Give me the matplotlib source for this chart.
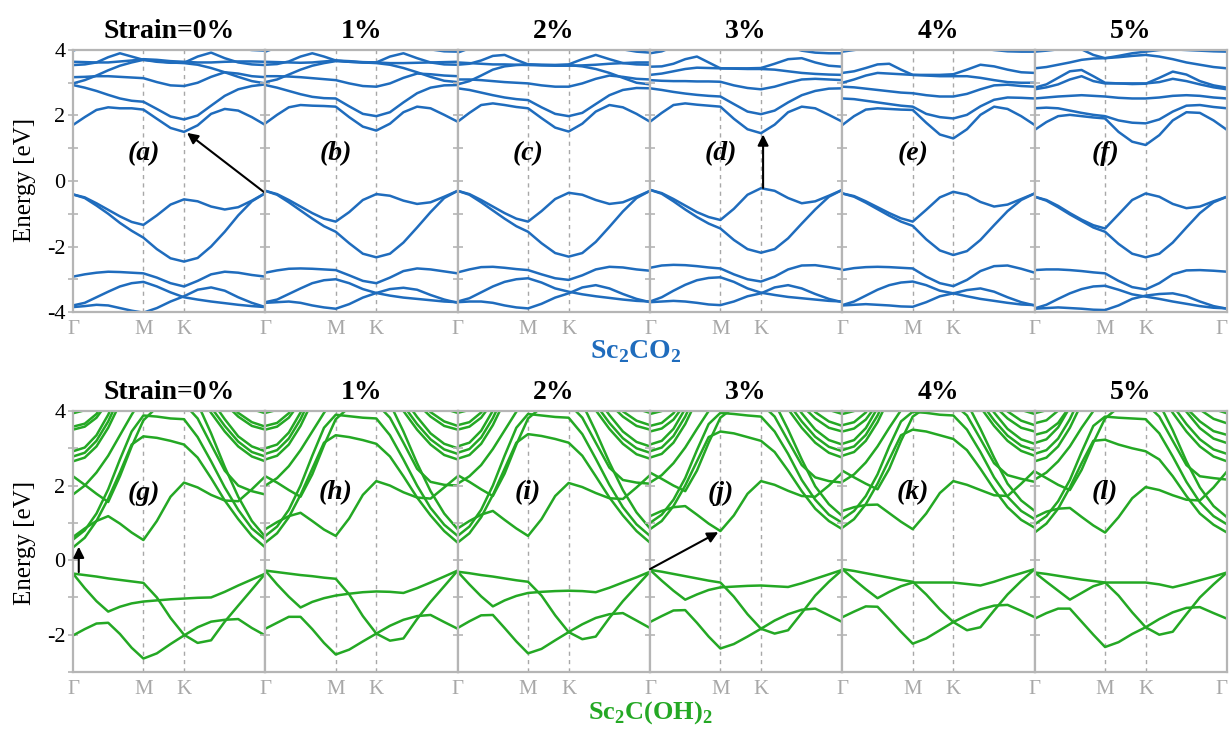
import matplotlib.pyplot as plt

plt.rcParams['font.family'] = ['Liberation Serif', 'DejaVu Serif']
plt.rcParams['axes.unicode_minus'] = False
plt.rcParams['mathtext.fontset'] = 'custom'
plt.rcParams['mathtext.rm'] = 'Liberation Serif'
plt.rcParams['mathtext.bf'] = 'Liberation Serif:bold'

# k-path samples along Γ-M-K-Γ (fraction of the path length)
kpath = [0, .061, .122, .183, .244, .305, .366, .436, .507, .577, .648, .718, .789, .859, .930, 1.0]
kpoints = [0.0, 0.366, 0.577, 1.0]
klabels = ['Γ', 'M', 'K', 'Γ']
strain_titles = ['Strain=0%', '1%', '2%', '3%', '4%', '5%']
co2_tags = ['a', 'b', 'c', 'd', 'e', 'f']
oh_tags = ['g', 'h', 'i', 'j', 'k', 'l']

# ---- Sc2CO2 bands (eV) ----
co2_0 = [
    [-0.41, -0.50, -0.68, -0.88, -1.08, -1.25, -1.34, -1.05, -0.72, -0.56, -0.62, -0.78, -0.87, -0.80, -0.60, -0.37],
    [-0.41, -0.52, -0.75, -1.00, -1.28, -1.52, -1.73, -2.08, -2.36, -2.46, -2.35, -2.00, -1.55, -1.05, -0.62, -0.37],
    [-2.92, -2.85, -2.80, -2.77, -2.78, -2.80, -2.82, -2.95, -3.12, -3.22, -3.05, -2.85, -2.77, -2.80, -2.87, -2.92],
    [-3.80, -3.72, -3.55, -3.38, -3.22, -3.12, -3.08, -3.22, -3.40, -3.55, -3.62, -3.68, -3.73, -3.78, -3.82, -3.85],
    [-3.85, -3.82, -3.78, -3.80, -3.88, -3.96, -4.02, -3.88, -3.68, -3.52, -3.32, -3.25, -3.35, -3.55, -3.72, -3.85],
    [1.71, 1.95, 2.17, 2.25, 2.22, 2.22, 2.18, 1.90, 1.62, 1.50, 1.70, 2.05, 2.20, 2.15, 1.95, 1.71],
    [2.93, 2.85, 2.75, 2.63, 2.52, 2.45, 2.42, 2.20, 1.97, 1.88, 2.00, 2.30, 2.60, 2.80, 2.90, 2.95],
    [2.98, 3.08, 3.22, 3.38, 3.52, 3.62, 3.70, 3.66, 3.62, 3.60, 3.55, 3.45, 3.32, 3.18, 3.05, 2.98],
    [3.17, 3.18, 3.20, 3.20, 3.18, 3.16, 3.14, 3.02, 2.92, 2.90, 3.00, 3.18, 3.32, 3.28, 3.20, 3.17],
    [3.54, 3.56, 3.62, 3.78, 3.90, 3.80, 3.70, 3.64, 3.61, 3.61, 3.80, 3.92, 3.75, 3.62, 3.56, 3.54],
    [3.64, 3.63, 3.62, 3.62, 3.65, 3.68, 3.72, 3.70, 3.66, 3.64, 3.62, 3.62, 3.64, 3.65, 3.65, 3.64],
    [3.98, 4.10, 4.30, 4.40, 4.30, 4.15, 4.05, 4.10, 4.20, 4.25, 4.20, 4.15, 4.10, 4.05, 4.00, 3.98],
]
co2_1 = [
    [-0.30, -0.40, -0.58, -0.78, -0.98, -1.15, -1.24, -0.95, -0.58, -0.40, -0.45, -0.60, -0.70, -0.65, -0.48, -0.30],
    [-0.30, -0.42, -0.65, -0.90, -1.15, -1.38, -1.55, -1.90, -2.22, -2.33, -2.22, -1.88, -1.42, -0.95, -0.52, -0.30],
    [-2.80, -2.73, -2.68, -2.67, -2.68, -2.70, -2.72, -2.88, -3.05, -3.12, -2.95, -2.75, -2.67, -2.70, -2.76, -2.82],
    [-3.70, -3.62, -3.45, -3.28, -3.12, -3.03, -3.00, -3.12, -3.30, -3.42, -3.50, -3.56, -3.60, -3.64, -3.68, -3.70],
    [-3.72, -3.70, -3.68, -3.72, -3.80, -3.86, -3.90, -3.76, -3.56, -3.42, -3.30, -3.26, -3.32, -3.48, -3.62, -3.72],
    [1.76, 2.02, 2.25, 2.32, 2.30, 2.29, 2.27, 1.95, 1.66, 1.54, 1.75, 2.10, 2.27, 2.22, 2.02, 1.81],
    [2.93, 2.85, 2.75, 2.65, 2.57, 2.53, 2.52, 2.28, 2.05, 1.98, 2.10, 2.40, 2.68, 2.85, 2.92, 2.93],
    [3.02, 3.10, 3.25, 3.40, 3.52, 3.60, 3.66, 3.64, 3.62, 3.60, 3.55, 3.45, 3.32, 3.18, 3.06, 3.02],
    [3.20, 3.20, 3.19, 3.17, 3.14, 3.11, 3.08, 2.98, 2.90, 2.88, 2.98, 3.15, 3.28, 3.26, 3.22, 3.20],
    [3.55, 3.57, 3.65, 3.80, 3.90, 3.80, 3.68, 3.64, 3.62, 3.62, 3.80, 3.90, 3.75, 3.62, 3.56, 3.55],
    [3.64, 3.63, 3.62, 3.61, 3.62, 3.65, 3.68, 3.66, 3.63, 3.62, 3.60, 3.60, 3.61, 3.62, 3.63, 3.64],
    [3.95, 4.08, 4.30, 4.40, 4.30, 4.15, 4.05, 4.10, 4.20, 4.25, 4.20, 4.15, 4.10, 4.02, 3.96, 3.95],
]
co2_2 = [
    [-0.30, -0.40, -0.58, -0.78, -0.98, -1.15, -1.24, -0.92, -0.55, -0.36, -0.42, -0.58, -0.70, -0.65, -0.48, -0.30],
    [-0.30, -0.42, -0.65, -0.90, -1.15, -1.38, -1.55, -1.90, -2.20, -2.31, -2.20, -1.86, -1.40, -0.93, -0.52, -0.30],
    [-2.79, -2.70, -2.63, -2.62, -2.65, -2.69, -2.72, -2.85, -2.97, -3.02, -2.88, -2.70, -2.62, -2.64, -2.70, -2.74],
    [-3.68, -3.58, -3.40, -3.22, -3.08, -3.00, -2.97, -3.10, -3.28, -3.38, -3.46, -3.52, -3.57, -3.62, -3.66, -3.68],
    [-3.70, -3.68, -3.68, -3.72, -3.80, -3.86, -3.89, -3.75, -3.56, -3.43, -3.25, -3.18, -3.28, -3.45, -3.60, -3.70],
    [1.81, 2.08, 2.32, 2.37, 2.32, 2.26, 2.22, 1.92, 1.63, 1.51, 1.75, 2.12, 2.32, 2.25, 2.05, 1.81],
    [2.83, 2.78, 2.70, 2.62, 2.55, 2.50, 2.47, 2.25, 2.05, 1.98, 2.08, 2.35, 2.62, 2.78, 2.84, 2.83],
    [2.95, 3.05, 3.22, 3.40, 3.50, 3.54, 3.56, 3.55, 3.54, 3.54, 3.50, 3.42, 3.30, 3.15, 3.00, 2.95],
    [3.10, 3.10, 3.08, 3.05, 3.02, 3.00, 2.98, 2.92, 2.88, 2.88, 2.98, 3.12, 3.22, 3.18, 3.12, 3.10],
    [3.55, 3.58, 3.68, 3.82, 3.85, 3.70, 3.56, 3.54, 3.54, 3.56, 3.72, 3.85, 3.72, 3.60, 3.56, 3.55],
    [3.62, 3.60, 3.58, 3.56, 3.56, 3.55, 3.54, 3.53, 3.52, 3.52, 3.53, 3.55, 3.58, 3.60, 3.62, 3.62],
    [3.92, 4.05, 4.25, 4.40, 4.30, 4.15, 4.05, 4.10, 4.20, 4.25, 4.20, 4.15, 4.10, 4.02, 3.95, 3.92],
]
co2_3 = [
    [-0.27, -0.37, -0.55, -0.75, -0.95, -1.10, -1.19, -0.85, -0.42, -0.22, -0.30, -0.52, -0.68, -0.62, -0.45, -0.27],
    [-0.27, -0.39, -0.62, -0.87, -1.10, -1.30, -1.45, -1.80, -2.08, -2.19, -2.08, -1.75, -1.30, -0.87, -0.48, -0.27],
    [-2.65, -2.58, -2.56, -2.57, -2.60, -2.64, -2.67, -2.85, -3.00, -3.07, -2.92, -2.70, -2.58, -2.57, -2.63, -2.70],
    [-3.68, -3.55, -3.35, -3.17, -3.03, -2.96, -2.94, -3.08, -3.28, -3.41, -3.48, -3.54, -3.58, -3.62, -3.66, -3.68],
    [-3.70, -3.68, -3.66, -3.68, -3.72, -3.77, -3.79, -3.68, -3.52, -3.43, -3.25, -3.18, -3.28, -3.45, -3.60, -3.70],
    [1.81, 2.08, 2.32, 2.37, 2.33, 2.30, 2.27, 1.90, 1.58, 1.46, 1.72, 2.10, 2.27, 2.22, 2.02, 1.81],
    [2.83, 2.78, 2.72, 2.67, 2.63, 2.60, 2.58, 2.35, 2.12, 2.04, 2.15, 2.40, 2.62, 2.75, 2.82, 2.83],
    [3.08, 3.06, 3.05, 3.05, 3.04, 3.04, 3.03, 2.92, 2.84, 2.80, 2.88, 3.00, 3.10, 3.12, 3.10, 3.08],
    [3.24, 3.28, 3.35, 3.42, 3.46, 3.45, 3.44, 3.43, 3.42, 3.42, 3.40, 3.35, 3.30, 3.27, 3.25, 3.24],
    [3.49, 3.50, 3.58, 3.72, 3.80, 3.62, 3.44, 3.44, 3.44, 3.45, 3.58, 3.72, 3.75, 3.62, 3.52, 3.49],
    [3.90, 3.96, 4.10, 4.30, 4.30, 4.15, 4.05, 4.10, 4.20, 4.25, 4.20, 4.10, 3.98, 3.92, 3.90, 3.90],
]
co2_4 = [
    [-0.38, -0.46, -0.62, -0.80, -0.98, -1.14, -1.24, -0.88, -0.50, -0.33, -0.42, -0.64, -0.78, -0.72, -0.55, -0.38],
    [-0.38, -0.48, -0.66, -0.86, -1.06, -1.24, -1.37, -1.78, -2.12, -2.26, -2.14, -1.80, -1.35, -0.92, -0.58, -0.38],
    [-2.72, -2.66, -2.63, -2.62, -2.63, -2.65, -2.67, -2.92, -3.12, -3.21, -3.02, -2.75, -2.60, -2.58, -2.68, -2.80],
    [-3.79, -3.68, -3.50, -3.32, -3.18, -3.10, -3.07, -3.18, -3.35, -3.43, -3.52, -3.60, -3.66, -3.72, -3.77, -3.79],
    [-3.80, -3.78, -3.76, -3.78, -3.80, -3.83, -3.84, -3.70, -3.52, -3.43, -3.33, -3.28, -3.38, -3.55, -3.70, -3.80],
    [1.71, 1.98, 2.18, 2.22, 2.20, 2.18, 2.17, 1.78, 1.42, 1.30, 1.58, 2.02, 2.27, 2.20, 1.98, 1.71],
    [2.52, 2.50, 2.45, 2.40, 2.35, 2.30, 2.27, 2.05, 1.95, 1.91, 2.02, 2.28, 2.48, 2.55, 2.54, 2.52],
    [2.88, 2.86, 2.82, 2.78, 2.74, 2.70, 2.68, 2.62, 2.58, 2.58, 2.66, 2.80, 2.92, 2.94, 2.90, 2.88],
    [3.00, 3.10, 3.22, 3.30, 3.28, 3.26, 3.24, 3.22, 3.20, 3.20, 3.20, 3.15, 3.08, 3.02, 3.00, 3.00],
    [3.30, 3.35, 3.45, 3.56, 3.58, 3.40, 3.24, 3.24, 3.24, 3.26, 3.40, 3.55, 3.50, 3.40, 3.32, 3.30],
    [3.95, 4.00, 4.05, 4.10, 4.15, 4.10, 4.05, 4.05, 4.10, 4.15, 4.10, 4.05, 4.00, 3.96, 3.95, 3.95],
]
co2_5 = [
    [-0.48, -0.58, -0.76, -0.98, -1.18, -1.35, -1.45, -1.02, -0.58, -0.38, -0.48, -0.70, -0.83, -0.78, -0.62, -0.48],
    [-0.48, -0.60, -0.80, -1.02, -1.22, -1.42, -1.55, -1.92, -2.22, -2.33, -2.22, -1.88, -1.42, -0.98, -0.65, -0.48],
    [-2.72, -2.70, -2.70, -2.72, -2.75, -2.79, -2.82, -3.05, -3.24, -3.31, -3.12, -2.85, -2.73, -2.72, -2.74, -2.77],
    [-3.89, -3.78, -3.60, -3.43, -3.30, -3.22, -3.20, -3.32, -3.46, -3.53, -3.60, -3.68, -3.75, -3.82, -3.87, -3.89],
    [-3.90, -3.88, -3.86, -3.88, -3.90, -3.93, -3.94, -3.80, -3.60, -3.50, -3.45, -3.43, -3.52, -3.68, -3.82, -3.90],
    [1.56, 1.80, 1.98, 2.02, 1.98, 1.94, 1.91, 1.50, 1.20, 1.10, 1.40, 1.85, 2.10, 2.08, 1.85, 1.56],
    [2.22, 2.24, 2.22, 2.15, 2.08, 2.02, 1.98, 1.85, 1.78, 1.76, 1.88, 2.12, 2.30, 2.32, 2.26, 2.22],
    [2.52, 2.55, 2.58, 2.60, 2.62, 2.60, 2.58, 2.54, 2.52, 2.52, 2.55, 2.60, 2.62, 2.60, 2.55, 2.52],
    [2.80, 2.86, 2.95, 3.10, 3.20, 3.05, 2.98, 2.98, 2.98, 2.98, 3.02, 3.12, 3.05, 2.95, 2.86, 2.80],
    [2.85, 2.95, 3.15, 3.35, 3.39, 3.20, 3.00, 2.98, 2.96, 2.97, 3.15, 3.34, 3.25, 3.05, 2.92, 2.85],
    [3.44, 3.48, 3.55, 3.62, 3.70, 3.74, 3.75, 3.78, 3.82, 3.85, 3.80, 3.72, 3.62, 3.55, 3.48, 3.44],
    [3.95, 3.98, 4.02, 4.05, 4.02, 3.85, 3.75, 3.82, 3.90, 3.95, 4.00, 4.02, 4.00, 3.98, 3.96, 3.95],
]

# ---- Sc2C(OH)2 bands (eV) ----
oh_0 = [
    [-0.36, -0.40, -0.44, -0.49, -0.53, -0.57, -0.61, -1.00, -1.55, -2.00, -2.22, -2.15, -1.65, -1.22, -0.79, -0.36],
    [-0.36, -0.75, -1.10, -1.38, -1.25, -1.16, -1.11, -1.08, -1.05, -1.03, -1.01, -1.00, -0.85, -0.68, -0.52, -0.36],
    [-2.02, -1.85, -1.70, -1.68, -1.98, -2.35, -2.64, -2.50, -2.25, -2.02, -1.80, -1.65, -1.60, -1.58, -1.82, -2.02],
    [0.62, 0.85, 1.05, 1.18, 0.98, 0.74, 0.54, 1.05, 1.70, 2.08, 1.95, 1.75, 1.60, 1.58, 1.90, 2.25],
    [0.34, 0.60, 1.05, 1.65, 2.35, 3.10, 3.32, 3.28, 3.20, 3.10, 2.75, 2.20, 1.60, 1.10, 0.65, 0.34],
    [0.55, 0.80, 1.25, 1.90, 2.70, 3.45, 3.88, 3.85, 3.80, 3.78, 3.30, 2.65, 1.95, 1.35, 0.85, 0.55],
    [1.76, 2.00, 2.35, 2.80, 3.35, 3.90, 4.40, 4.60, 4.60, 4.50, 4.20, 3.40, 2.50, 1.70, 1.05, 0.62],
    [2.25, 2.02, 1.78, 1.56, 2.25, 3.05, 3.75, 4.10, 4.30, 4.20, 3.80, 3.10, 2.40, 2.00, 1.85, 1.76],
    [2.65, 2.75, 3.05, 3.55, 4.20, 5.0, 5.0, 5.0, 5.0, 5.0, 4.50, 3.95, 3.45, 3.05, 2.78, 2.65],
    [2.78, 2.88, 3.20, 3.72, 4.40, 5.0, 5.0, 5.0, 5.0, 5.0, 4.70, 4.10, 3.60, 3.18, 2.90, 2.78],
    [2.92, 3.02, 3.35, 3.90, 4.60, 5.0, 5.0, 5.0, 5.0, 5.0, 4.90, 4.30, 3.78, 3.32, 3.05, 2.92],
    [3.50, 3.58, 3.82, 4.25, 5.0, 5.0, 5.0, 5.0, 5.0, 5.0, 5.0, 4.70, 4.20, 3.85, 3.60, 3.50],
    [3.58, 3.66, 3.92, 4.40, 5.0, 5.0, 5.0, 5.0, 5.0, 5.0, 5.0, 4.90, 4.35, 3.95, 3.70, 3.58],
    [3.94, 4.02, 4.25, 4.70, 5.0, 5.0, 5.0, 5.0, 5.0, 5.0, 5.0, 5.0, 4.70, 4.30, 4.05, 3.94],
]
oh_1 = [
    [-0.28, -0.32, -0.36, -0.40, -0.43, -0.47, -0.50, -0.92, -1.50, -1.97, -2.16, -2.10, -1.58, -1.12, -0.70, -0.28],
    [-0.28, -0.65, -0.98, -1.27, -1.12, -1.02, -0.95, -0.90, -0.86, -0.84, -0.85, -0.88, -0.75, -0.60, -0.44, -0.28],
    [-1.84, -1.68, -1.52, -1.52, -1.85, -2.22, -2.53, -2.40, -2.18, -1.97, -1.76, -1.60, -1.50, -1.47, -1.66, -1.84],
    [0.83, 1.02, 1.18, 1.27, 1.05, 0.82, 0.65, 1.12, 1.75, 2.12, 2.00, 1.82, 1.68, 1.65, 1.95, 2.25],
    [0.47, 0.72, 1.15, 1.75, 2.45, 3.15, 3.35, 3.30, 3.22, 3.12, 2.78, 2.25, 1.68, 1.20, 0.78, 0.47],
    [0.65, 0.90, 1.35, 2.00, 2.80, 3.55, 3.90, 3.86, 3.82, 3.80, 3.35, 2.70, 2.00, 1.40, 0.95, 0.65],
    [2.00, 2.20, 2.52, 2.95, 3.45, 3.95, 4.40, 4.60, 4.60, 4.50, 4.20, 3.45, 2.60, 1.85, 1.25, 0.83],
    [2.25, 2.08, 1.88, 1.70, 2.30, 3.08, 3.78, 4.10, 4.30, 4.20, 3.82, 3.15, 2.45, 2.10, 2.02, 2.00],
    [2.70, 2.80, 3.10, 3.60, 4.25, 5.0, 5.0, 5.0, 5.0, 5.0, 4.55, 4.00, 3.50, 3.10, 2.82, 2.70],
    [2.85, 2.95, 3.26, 3.78, 4.45, 5.0, 5.0, 5.0, 5.0, 5.0, 4.75, 4.15, 3.65, 3.24, 2.97, 2.85],
    [3.00, 3.10, 3.42, 3.96, 4.65, 5.0, 5.0, 5.0, 5.0, 5.0, 4.95, 4.35, 3.84, 3.40, 3.12, 3.00],
    [3.50, 3.58, 3.82, 4.25, 5.0, 5.0, 5.0, 5.0, 5.0, 5.0, 5.0, 4.70, 4.20, 3.85, 3.60, 3.50],
    [3.60, 3.68, 3.94, 4.42, 5.0, 5.0, 5.0, 5.0, 5.0, 5.0, 5.0, 4.90, 4.37, 3.97, 3.72, 3.60],
    [3.95, 4.03, 4.26, 4.70, 5.0, 5.0, 5.0, 5.0, 5.0, 5.0, 5.0, 5.0, 4.70, 4.30, 4.06, 3.95],
]
oh_2 = [
    [-0.31, -0.35, -0.40, -0.44, -0.49, -0.54, -0.58, -0.95, -1.48, -1.93, -2.12, -2.05, -1.55, -1.10, -0.70, -0.31],
    [-0.31, -0.65, -0.97, -1.24, -1.08, -0.96, -0.88, -0.85, -0.83, -0.82, -0.83, -0.86, -0.74, -0.60, -0.46, -0.31],
    [-1.82, -1.64, -1.48, -1.47, -1.82, -2.18, -2.50, -2.38, -2.15, -1.93, -1.72, -1.55, -1.45, -1.42, -1.62, -1.82],
    [0.85, 1.05, 1.22, 1.32, 1.08, 0.85, 0.65, 1.10, 1.72, 2.07, 1.96, 1.80, 1.66, 1.64, 1.95, 2.28],
    [0.47, 0.72, 1.15, 1.75, 2.45, 3.15, 3.38, 3.33, 3.25, 3.15, 2.80, 2.25, 1.68, 1.20, 0.78, 0.47],
    [0.65, 0.90, 1.35, 2.00, 2.80, 3.55, 3.92, 3.88, 3.84, 3.82, 3.38, 2.72, 2.02, 1.42, 0.96, 0.65],
    [2.05, 2.25, 2.55, 2.98, 3.48, 3.98, 4.40, 4.60, 4.60, 4.50, 4.20, 3.45, 2.62, 1.88, 1.28, 0.85],
    [2.28, 2.10, 1.90, 1.72, 2.32, 3.10, 3.80, 4.10, 4.30, 4.20, 3.82, 3.15, 2.48, 2.15, 2.08, 2.05],
    [2.72, 2.82, 3.12, 3.62, 4.27, 5.0, 5.0, 5.0, 5.0, 5.0, 4.57, 4.02, 3.52, 3.12, 2.84, 2.72],
    [2.88, 2.98, 3.29, 3.81, 4.48, 5.0, 5.0, 5.0, 5.0, 5.0, 4.78, 4.18, 3.68, 3.27, 3.00, 2.88],
    [3.05, 3.15, 3.47, 4.01, 4.70, 5.0, 5.0, 5.0, 5.0, 5.0, 5.0, 4.40, 3.89, 3.45, 3.17, 3.05],
    [3.50, 3.58, 3.82, 4.25, 5.0, 5.0, 5.0, 5.0, 5.0, 5.0, 5.0, 4.70, 4.20, 3.85, 3.60, 3.50],
    [3.62, 3.70, 3.96, 4.44, 5.0, 5.0, 5.0, 5.0, 5.0, 5.0, 5.0, 4.92, 4.39, 3.99, 3.74, 3.62],
    [3.95, 4.03, 4.26, 4.70, 5.0, 5.0, 5.0, 5.0, 5.0, 5.0, 5.0, 5.0, 4.70, 4.30, 4.06, 3.95],
]
oh_3 = [
    [-0.26, -0.31, -0.37, -0.43, -0.49, -0.55, -0.60, -0.98, -1.45, -1.84, -1.97, -1.88, -1.42, -0.95, -0.58, -0.26],
    [-0.26, -0.55, -0.82, -1.06, -0.92, -0.80, -0.73, -0.71, -0.69, -0.68, -0.70, -0.72, -0.62, -0.50, -0.38, -0.26],
    [-1.66, -1.50, -1.35, -1.34, -1.68, -2.05, -2.37, -2.25, -2.05, -1.84, -1.62, -1.45, -1.33, -1.30, -1.48, -1.66],
    [1.18, 1.32, 1.42, 1.45, 1.22, 0.98, 0.78, 1.20, 1.78, 2.12, 2.02, 1.86, 1.72, 1.70, 2.00, 2.35],
    [0.83, 1.05, 1.45, 2.00, 2.65, 3.30, 3.45, 3.40, 3.30, 3.20, 2.90, 2.40, 1.85, 1.38, 1.05, 0.83],
    [1.00, 1.22, 1.62, 2.20, 2.95, 3.65, 3.95, 3.92, 3.88, 3.85, 3.45, 2.85, 2.15, 1.62, 1.22, 1.00],
    [2.08, 2.28, 2.60, 3.02, 3.52, 4.00, 4.40, 4.60, 4.60, 4.50, 4.22, 3.50, 2.70, 1.98, 1.50, 1.18],
    [2.35, 2.18, 2.00, 1.85, 2.40, 3.15, 3.82, 4.10, 4.30, 4.20, 3.85, 3.20, 2.55, 2.22, 2.12, 2.08],
    [2.75, 2.85, 3.15, 3.65, 4.30, 5.0, 5.0, 5.0, 5.0, 5.0, 4.60, 4.05, 3.55, 3.15, 2.88, 2.75],
    [2.92, 3.02, 3.33, 3.85, 4.52, 5.0, 5.0, 5.0, 5.0, 5.0, 4.82, 4.22, 3.72, 3.31, 3.04, 2.92],
    [3.10, 3.20, 3.52, 4.06, 4.75, 5.0, 5.0, 5.0, 5.0, 5.0, 5.0, 4.45, 3.94, 3.50, 3.22, 3.10],
    [3.45, 3.53, 3.77, 4.20, 5.0, 5.0, 5.0, 5.0, 5.0, 5.0, 5.0, 4.65, 4.15, 3.80, 3.55, 3.45],
    [3.60, 3.68, 3.94, 4.42, 5.0, 5.0, 5.0, 5.0, 5.0, 5.0, 5.0, 4.90, 4.37, 3.97, 3.72, 3.60],
    [3.92, 4.00, 4.23, 4.68, 5.0, 5.0, 5.0, 5.0, 5.0, 5.0, 5.0, 5.0, 4.68, 4.28, 4.03, 3.92],
]
oh_4 = [
    [-0.24, -0.29, -0.35, -0.41, -0.47, -0.53, -0.58, -0.92, -1.32, -1.66, -1.88, -1.80, -1.35, -0.92, -0.56, -0.24],
    [-0.24, -0.52, -0.78, -1.02, -0.85, -0.70, -0.60, -0.60, -0.60, -0.60, -0.64, -0.68, -0.58, -0.46, -0.35, -0.24],
    [-1.53, -1.38, -1.24, -1.25, -1.58, -1.92, -2.24, -2.10, -1.88, -1.66, -1.48, -1.32, -1.22, -1.20, -1.36, -1.53],
    [1.32, 1.42, 1.48, 1.49, 1.26, 1.03, 0.83, 1.25, 1.80, 2.12, 2.02, 1.88, 1.74, 1.72, 2.05, 2.40],
    [0.87, 1.10, 1.50, 2.05, 2.70, 3.35, 3.50, 3.45, 3.35, 3.25, 2.95, 2.45, 1.90, 1.42, 1.08, 0.87],
    [1.10, 1.32, 1.72, 2.30, 3.05, 3.72, 3.98, 3.95, 3.90, 3.88, 3.50, 2.90, 2.22, 1.70, 1.32, 1.10],
    [2.10, 2.30, 2.62, 3.05, 3.55, 4.02, 4.40, 4.60, 4.60, 4.50, 4.22, 3.52, 2.75, 2.05, 1.60, 1.32],
    [2.40, 2.22, 2.05, 1.90, 2.45, 3.20, 3.85, 4.10, 4.30, 4.20, 3.88, 3.25, 2.60, 2.28, 2.18, 2.10],
    [2.80, 2.90, 3.20, 3.70, 4.35, 5.0, 5.0, 5.0, 5.0, 5.0, 4.65, 4.10, 3.60, 3.20, 2.93, 2.80],
    [2.95, 3.05, 3.36, 3.88, 4.55, 5.0, 5.0, 5.0, 5.0, 5.0, 4.85, 4.25, 3.75, 3.34, 3.07, 2.95],
    [3.12, 3.22, 3.54, 4.08, 4.77, 5.0, 5.0, 5.0, 5.0, 5.0, 5.0, 4.47, 3.96, 3.52, 3.24, 3.12],
    [3.45, 3.53, 3.77, 4.20, 5.0, 5.0, 5.0, 5.0, 5.0, 5.0, 5.0, 4.65, 4.15, 3.80, 3.55, 3.45],
    [3.62, 3.70, 3.96, 4.44, 5.0, 5.0, 5.0, 5.0, 5.0, 5.0, 5.0, 4.92, 4.39, 3.99, 3.74, 3.62],
    [3.92, 4.00, 4.23, 4.68, 5.0, 5.0, 5.0, 5.0, 5.0, 5.0, 5.0, 5.0, 4.68, 4.28, 4.03, 3.92],
]
oh_5 = [
    [-0.33, -0.37, -0.42, -0.47, -0.52, -0.56, -0.60, -0.95, -1.40, -1.80, -2.00, -1.92, -1.45, -1.00, -0.65, -0.33],
    [-0.33, -0.58, -0.82, -1.06, -0.88, -0.70, -0.60, -0.60, -0.60, -0.60, -0.65, -0.73, -0.64, -0.54, -0.44, -0.33],
    [-1.57, -1.42, -1.30, -1.30, -1.65, -2.00, -2.33, -2.20, -1.98, -1.80, -1.58, -1.40, -1.28, -1.26, -1.42, -1.57],
    [1.15, 1.30, 1.38, 1.40, 1.16, 0.93, 0.74, 1.15, 1.66, 1.96, 1.88, 1.74, 1.62, 1.60, 1.95, 2.38],
    [0.74, 0.98, 1.38, 1.95, 2.60, 3.20, 3.23, 3.10, 3.00, 2.92, 2.70, 2.25, 1.72, 1.25, 0.95, 0.74],
    [0.96, 1.18, 1.58, 2.15, 2.90, 3.60, 3.85, 3.82, 3.80, 3.78, 3.40, 2.78, 2.10, 1.55, 1.18, 0.96],
    [2.16, 2.35, 2.65, 3.05, 3.55, 4.00, 4.40, 4.60, 4.60, 4.50, 4.20, 3.48, 2.65, 1.95, 1.45, 1.15],
    [2.38, 2.20, 2.02, 1.88, 2.42, 3.15, 3.80, 4.10, 4.30, 4.20, 3.85, 3.20, 2.55, 2.25, 2.20, 2.16],
    [2.65, 2.75, 3.05, 3.55, 4.20, 5.0, 5.0, 5.0, 5.0, 5.0, 4.50, 3.95, 3.45, 3.05, 2.78, 2.65],
    [2.85, 2.95, 3.26, 3.78, 4.45, 5.0, 5.0, 5.0, 5.0, 5.0, 4.75, 4.15, 3.65, 3.24, 2.97, 2.85],
    [3.14, 3.24, 3.56, 4.10, 4.80, 5.0, 5.0, 5.0, 5.0, 5.0, 5.0, 4.50, 3.98, 3.54, 3.26, 3.14],
    [3.36, 3.44, 3.68, 4.12, 5.0, 5.0, 5.0, 5.0, 5.0, 5.0, 5.0, 4.58, 4.08, 3.72, 3.46, 3.36],
    [3.67, 3.75, 4.01, 4.50, 5.0, 5.0, 5.0, 5.0, 5.0, 5.0, 5.0, 4.95, 4.44, 4.04, 3.79, 3.67],
    [3.94, 4.02, 4.25, 4.70, 5.0, 5.0, 5.0, 5.0, 5.0, 5.0, 5.0, 5.0, 4.70, 4.30, 4.05, 3.94],
]

co2_panels = [co2_0, co2_1, co2_2, co2_3, co2_4, co2_5]
oh_panels = [oh_0, oh_1, oh_2, oh_3, oh_4, oh_5]

BLUE = '#1f6cbd'
GREEN = '#24a824'
GRAY = '#b5b5b5'

fig = plt.figure(figsize=(12.29, 7.29), dpi=100)
W, H = 1229, 729
left, right = 73 / W, 1227 / W
pw = (right - left) / 6

rows = [
    dict(bottom=1 - 312 / H, height=262 / H, panels=co2_panels, tags=co2_tags, color=BLUE,
         ylim=(-4, 4), labels=[-4, -2, 0, 2, 4], tag_y=0.85),
    dict(bottom=1 - 672 / H, height=261 / H, panels=oh_panels, tags=oh_tags, color=GREEN,
         ylim=(-3, 4), labels=[-2, 0, 2, 4], tag_y=1.8),
]

axes = []
for r, row in enumerate(rows):
    row_axes = []
    for i, bands in enumerate(row['panels']):
        ax = fig.add_axes([left + i * pw, row['bottom'], pw, row['height']])
        for band in bands:
            ax.plot(kpath, band, color=row['color'], lw=1.8, solid_joinstyle='round')
        for kx in kpoints[1:3]:
            ax.axvline(kx, color='#a8a8a8', lw=1.0, ls=(0, (3, 3)), zorder=0)
        ax.set_xlim(0, 1)
        ax.set_ylim(*row['ylim'])
        for s in ax.spines.values():
            s.set_color(GRAY)
            s.set_linewidth(1.6)
        if i == 5:
            ax.set_xticks(kpoints)
            ax.set_xticklabels(klabels)
        else:
            ax.set_xticks(kpoints[:3])
            ax.set_xticklabels(klabels[:3])
        ax.tick_params(axis='x', length=0, pad=6, labelsize=15, labelcolor='#a8a8a8')
        if i == 5:
            ax.get_xticklabels()[-1].set_horizontalalignment('right')
        lo, hi = row['ylim']
        ax.set_yticks(list(range(lo, hi + 1)))
        if i == 0:
            ax.set_yticklabels([str(v) if v in row['labels'] else '' for v in range(lo, hi + 1)])
        else:
            ax.set_yticklabels([])
        ax.tick_params(axis='y', direction='inout', length=7, width=1.2, color=GRAY,
                       labelsize=16, pad=2)
        ax.text(0.5, 1.07, strain_titles[i], transform=ax.transAxes, ha='center', va='center',
                fontsize=20, fontweight='bold')
        ax.text(0.366, row['tag_y'], '(' + row['tags'][i] + ')', ha='center', va='center',
                fontsize=20, fontweight='bold', style='italic')
        row_axes.append(ax)
    axes.append(row_axes)

arrow = dict(arrowstyle='-|>', color='black', lw=1.5, mutation_scale=16, shrinkA=0, shrinkB=0)
axes[0][0].annotate('', xy=(0.593, 1.47), xytext=(1.0, -0.37), arrowprops=arrow, annotation_clip=False)
axes[0][3].annotate('', xy=(0.588, 1.42), xytext=(0.588, -0.21), arrowprops=arrow)
axes[1][0].annotate('', xy=(0.03, 0.36), xytext=(0.03, -0.32), arrowprops=arrow)
axes[1][3].annotate('', xy=(0.355, 0.75), xytext=(0.0, -0.24), arrowprops=arrow, annotation_clip=False)

fig.text(25 / W, 1 - 180 / H, 'Energy [eV]', rotation=90, ha='center', va='center', fontsize=18)
fig.text(25 / W, 1 - 543 / H, 'Energy [eV]', rotation=90, ha='center', va='center', fontsize=18)
fig.text(636 / W, 1 - 352 / H, r'Sc$_\mathbf{2}$CO$_\mathbf{2}$', ha='center', va='center',
         fontsize=20, fontweight='bold', color=BLUE)
fig.text(650 / W, 1 - 713 / H, r'Sc$_\mathbf{2}$C(OH)$_\mathbf{2}$', ha='center', va='center',
         fontsize=19, fontweight='bold', color=GREEN)

fig.savefig('out.png', dpi=100)
